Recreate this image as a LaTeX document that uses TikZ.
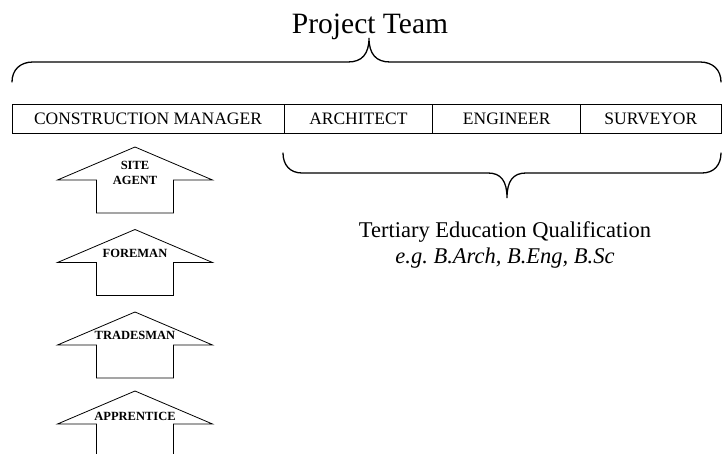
\documentclass[tikz,border=0pt]{standalone}
\usepackage{fontspec}
\setmainfont{Liberation Serif}
\usetikzlibrary{positioning}
\frenchspacing

\tikzset{
  cell/.style={draw, line width=0.8pt, outer sep=0pt, inner sep=0pt,
    minimum height=29pt, font=\fontsize{17.5}{20}\selectfont},
  rank/.pic={
    \draw[line width=0.8pt, line join=miter]
      (-38.5,33) -- (-38.5,0) -- (-77.5,0) -- (0,-33)
      -- (77.5,0) -- (38.5,0) -- (38.5,33) -- cycle;
  },
  ranklabel/.style={font=\fontsize{12.5}{15}\selectfont\bfseries,
    align=center, inner sep=0pt},
  brace/.style={line width=1.3pt, line cap=round}
}

\begin{document}
\begin{tikzpicture}[x=1pt,y=-1pt]
  \useasboundingbox (0,0) rectangle (723,454);

  % title and top brace
  \node[anchor=base, inner sep=0pt, font=\fontsize{29.5}{34}\selectfont]
    (team) at (370,33.3) {Project Team};
  \draw[brace] (12,82) .. controls (12,70) and (20,62) .. (33,62)
    -- (348,62) .. controls (362,62) and (369,54) .. (369,38)
    .. controls (369,54) and (376,62) .. (390,62)
    -- (700,62) .. controls (713,62) and (721,70) .. (721,82);

  % the four roles
  \node[cell, minimum width=272pt] (manager) at (148,118.8) {CONSTRUCTION MANAGER};
  \node[cell, minimum width=148.7pt, right=0pt of manager] (architect) {ARCHITECT};
  \node[cell, minimum width=148pt, right=0pt of architect] (engineer) {ENGINEER};
  \node[cell, minimum width=140.3pt, right=0pt of engineer] (surveyor) {SURVEYOR};

  % lower brace and qualification
  \draw[brace] (283,153) .. controls (283,165) and (290,173) .. (302,173)
    -- (488,173) .. controls (501,173) and (507,181) .. (507,198)
    .. controls (507,181) and (513,173) .. (526,173)
    -- (702,173) .. controls (714,173) and (721,165) .. (721,153);
  \node[align=center, inner sep=0pt, font=\fontsize{22.5}{26}\selectfont]
    (degree) at (505,245) {Tertiary Education Qualification\\
    \itshape e.g. B.Arch, B.Eng, B.Sc};

  % career ladder
  \pic at (135,180) {rank};
  \pic at (135,262.5) {rank};
  \pic at (135,345) {rank};
  \pic at (135,424) {rank};
  \node[ranklabel] (agent) at (135,172.5) {SITE\\AGENT};
  \node[ranklabel] (foreman) at (135,253.3) {FOREMAN};
  \node[ranklabel] (tradesman) at (135,335.3) {TRADESMAN};
  \node[ranklabel] (apprentice) at (135,416.7) {APPRENTICE};
\end{tikzpicture}
\end{document}
